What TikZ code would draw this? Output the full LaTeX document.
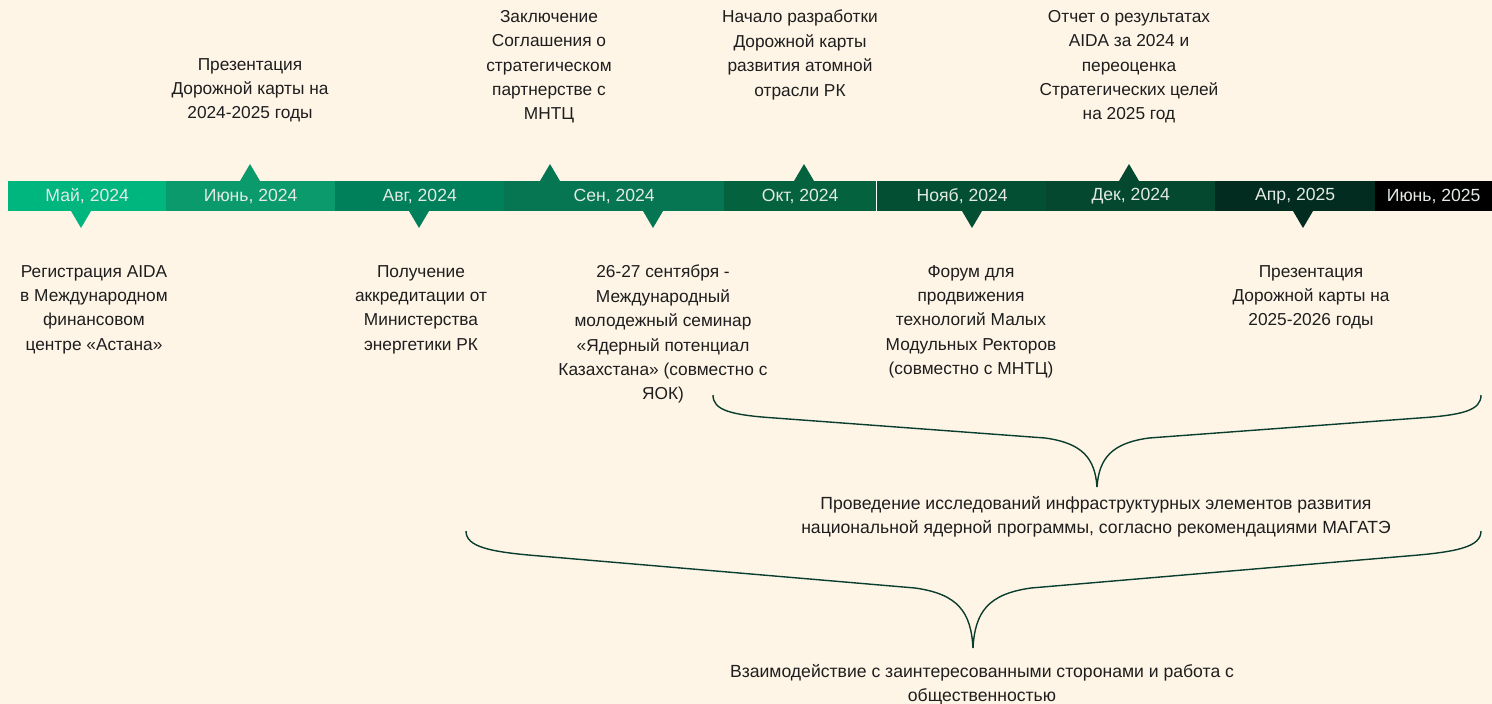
\documentclass[tikz,border=0pt]{standalone}
\usepackage{fontspec}
\setmainfont{Liberation Sans}
\begin{document}
\begin{tikzpicture}[x=1pt,y=-1pt,
  seg/.style={inner sep=0pt, minimum height=30pt, text=bartext, font=\fontsize{17.6}{20}\selectfont, anchor=west},
  lbl/.style={inner sep=0pt, align=center, text=txt, font=\fontsize{17.3}{24.4}\selectfont, anchor=north},
  blbl/.style={lbl, font=\fontsize{17.6}{24.4}\selectfont},
  brace/.style={draw=bracec, line width=1.4pt},
  uptri/.pic={\fill (-10,0) -- (0,-17) -- (10,0) -- cycle;},
  dntri/.pic={\fill (-10,0) -- (0,17) -- (10,0) -- cycle;}
]
\definecolor{bg}{HTML}{FEF5E7}
\definecolor{bartext}{HTML}{E3EAE4}
\definecolor{txt}{HTML}{1E1E1E}
\definecolor{bracec}{HTML}{0B3D2E}
\definecolor{ca}{HTML}{00B67F}
\definecolor{cb}{HTML}{0A9A6C}
\definecolor{cc}{HTML}{00805A}
\definecolor{cd}{HTML}{057552}
\definecolor{ce}{HTML}{05623F}
\definecolor{cf}{HTML}{034F34}
\definecolor{cg}{HTML}{044830}
\definecolor{ch}{HTML}{022C1F}
\definecolor{ci}{HTML}{000000}
\fill[bg] (0,0) rectangle (1492,704);
\useasboundingbox (0,0) rectangle (1492,704);

% timeline segments
\node[seg, fill=ca, minimum width=158pt] (s1) at (8,196) {Май, 2024};
\node[seg, fill=cb, minimum width=169pt] (s2) at (166,196) {Июнь, 2024};
\node[seg, fill=cc, minimum width=169pt] (s3) at (335,196) {Авг, 2024};
\node[seg, fill=cd, minimum width=220pt] (s4) at (504,196) {Сен, 2024};
\node[seg, fill=ce, minimum width=152pt] (s5) at (724,196) {Окт, 2024};
\node[seg, fill=cf, minimum width=170pt] (s6) at (877,196) {Нояб, 2024};
\node[seg, fill=cg, minimum width=169pt] (s7) at (1046,196) {Дек, 2024};
\node[seg, fill=ch, minimum width=160pt] (s8) at (1215,196) {Апр, 2025};
\node[seg, fill=ci, minimum width=117pt] (s9) at (1375,196) {Июнь, 2025};

% markers
\pic[color=ca] at (81,211) {dntri};
\pic[color=cb] at (250,181) {uptri};
\pic[color=cc] at (419,211) {dntri};
\pic[color=cd] at (550,181) {uptri};
\pic[color=cd] at (653,211) {dntri};
\pic[color=ce] at (804,181) {uptri};
\pic[color=cf] at (972,211) {dntri};
\pic[color=cg] at (1129,181) {uptri};
\pic[color=ch] at (1303,211) {dntri};

% labels above
\node[lbl] (t1) at (250,58) {Презентация\\Дорожной карты на\\2024-2025 годы};
\node[lbl] (t2) at (549,10) {Заключение\\Соглашения о\\стратегическом\\партнерстве с\\МНТЦ};
\node[lbl] (t3) at (800,10) {Начало разработки\\Дорожной карты\\развития атомной\\отрасли РК};
\node[lbl] (t4) at (1129,10) {Отчет о результатах\\AIDA за 2024 и\\переоценка\\Стратегических целей\\на 2025 год};

% labels below
\node[lbl] (b1) at (94,265) {Регистрация AIDA\\в Международном\\финансовом\\центре «Астана»};
\node[lbl] (b2) at (421,265) {Получение\\аккредитации от\\Министерства\\энергетики РК};
\node[lbl] (b3) at (663,265) {26-27 сентября -\\Международный\\молодежный семинар\\«Ядерный потенциал\\Казахстана» (совместно с\\ЯОК)};
\node[lbl] (b4) at (971,265) {Форум для\\продвижения\\технологий Малых\\Модульных Ректоров\\(совместно с МНТЦ)};
\node[lbl] (b5) at (1311,265) {Презентация\\Дорожной карты на\\2025-2026 годы};

% braces
\coordinate (p1l) at (713,395);
\coordinate (p1r) at (1481,395);
\coordinate (p1t) at (1097,487);
\draw[brace] (p1l) .. controls (713,410) and (730,415) .. (775,418)
  -- (1045,438) .. controls (1082,443) and (1095,458) .. (p1t);
\draw[brace] (p1r) .. controls (1481,410) and (1464,415) .. (1419,418)
  -- (1149,438) .. controls (1112,443) and (1099,458) .. (p1t);
\node[blbl] (r1) at (1096,496) {Проведение исследований инфраструктурных элементов развития\\национальной ядерной программы, согласно рекомендациями МАГАТЭ};

\coordinate (p2l) at (466,531);
\coordinate (p2r) at (1481,531);
\coordinate (p2t) at (973,648);
\draw[brace] (p2l) .. controls (466,547) and (490,552) .. (540,556)
  -- (915,588) .. controls (958,594) and (971,612) .. (p2t);
\draw[brace] (p2r) .. controls (1481,547) and (1457,552) .. (1407,556)
  -- (1031,588) .. controls (988,594) and (975,612) .. (p2t);
\node[blbl] (r2) at (982,664) {Взаимодействие с заинтересованными сторонами и работа с\\общественностью};

\draw[white, line width=1pt] (s5.north east) -- (s5.south east);
\end{tikzpicture}
\end{document}
